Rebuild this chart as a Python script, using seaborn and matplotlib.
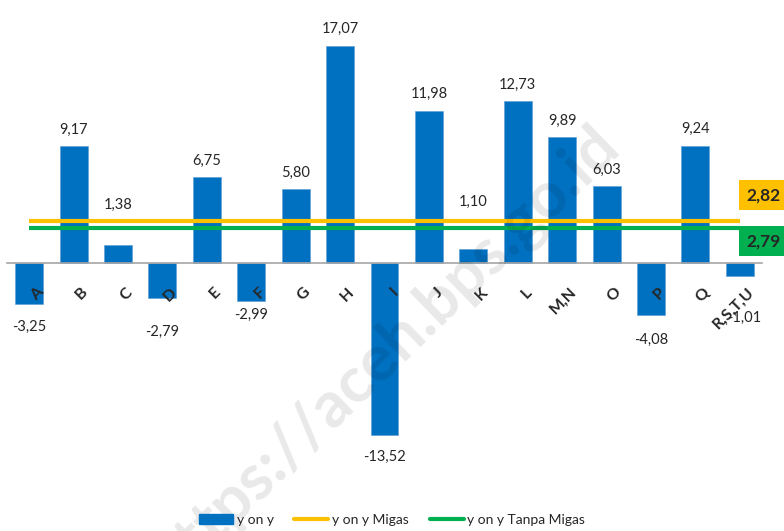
import matplotlib
matplotlib.use("Agg")
import matplotlib.pyplot as plt
import matplotlib.transforms as mtransforms
from matplotlib.patches import Patch
from matplotlib.lines import Line2D
import seaborn as sns

# Data
categories = ["A", "B", "C", "D", "E", "F", "G", "H", "I", "J", "K", "L",
              "M,N", "O", "P", "Q", "R,S,T,U"]
yoy = [-3.25, 9.17, 1.38, -2.79, 6.75, -2.99, 5.80, 17.07, -13.52, 11.98,
       1.10, 12.73, 9.89, 6.03, -4.08, 9.24, -1.01]
yoy_migas = 2.82
yoy_tanpa_migas = 2.79
legend_labels = ["y on y", "y on y Migas", "y on y Tanpa Migas"]

BLUE = "#0070C0"
YELLOW = "#FFC000"
GREEN = "#00B050"

def fmt(v):
    return f"{v:.2f}".replace(".", ",")

sns.set_style("white")
plt.rcParams["font.family"] = ["Lato", "DejaVu Sans"]

fig = plt.figure(figsize=(7.84, 5.31), dpi=100)
# zero line at ~263 px, about 12.7 px per unit
ax = fig.add_axes([7 / 784, 0.0738, 755 / 784, 0.9217])

sns.barplot(x=categories, y=yoy, color=BLUE, saturation=1, width=0.63, ax=ax,
            edgecolor="#5B9BD5", linewidth=0.4, zorder=2)
ax.set_xlim(-0.5, len(categories) - 0.5)
ax.set_ylim(-18, 20.5)

# axis line at zero with small ticks between categories
for s in ["top", "right", "left"]:
    ax.spines[s].set_visible(False)
ax.spines["bottom"].set_position(("data", 0))
ax.spines["bottom"].set_color("#A6A6A6")
ax.spines["bottom"].set_linewidth(1.2)
ax.set_xticks([i - 0.5 for i in range(len(categories) + 1)])
ax.set_xticklabels([])
ax.tick_params(axis="x", length=5, color="#A6A6A6", width=1.2, direction="out")
ax.set_yticks([])

# category labels, rotated, ending just below the axis
for i, c in enumerate(categories):
    ax.annotate(c, xy=(i, 0), xytext=(5, -16), textcoords="offset points",
                rotation=45, rotation_mode="anchor", ha="right", va="top",
                fontsize=11.5, fontweight="bold", zorder=4)

# value labels (small bars get their label lifted above the reference lines)
nudge = {2: 17, 3: -8, 5: 6, 10: 22, 14: -2}
for i, v in enumerate(yoy):
    if i == len(yoy) - 1:
        ax.annotate(fmt(v), xy=(i, v), xytext=(3, -30), textcoords="offset points",
                    ha="center", va="center", fontsize=10.5, zorder=5)
    elif v >= 0:
        ax.annotate(fmt(v), xy=(i, v), xytext=(0, 12 + nudge.get(i, 0)),
                    textcoords="offset points", ha="center", va="center", fontsize=10.5)
    else:
        ax.annotate(fmt(v), xy=(i, v), xytext=(0, -16 + nudge.get(i, 0)),
                    textcoords="offset points", ha="center", va="center", fontsize=10.5)

# reference lines (yellow shifted up a little so both stay visible)
up = mtransforms.offset_copy(ax.transData, fig=fig, x=0, y=4.3, units="points")
ax.plot([0, len(categories) - 1], [yoy_migas, yoy_migas], color=YELLOW, lw=3,
        transform=up, zorder=3, solid_capstyle="butt")
ax.plot([0, len(categories) - 1], [yoy_tanpa_migas, yoy_tanpa_migas], color=GREEN,
        lw=3, zorder=3, solid_capstyle="butt")

ax.annotate(fmt(yoy_migas), xy=(1, yoy_migas), xycoords=("axes fraction", "data"),
            xytext=(1, 23), textcoords="offset points", ha="center", va="center",
            fontsize=12.5, fontweight="bold", annotation_clip=False,
            bbox=dict(boxstyle="square,pad=0.4", fc=YELLOW, ec="none"))
ax.annotate(fmt(yoy_tanpa_migas), xy=(1, yoy_tanpa_migas),
            xycoords=("axes fraction", "data"),
            xytext=(1, -10), textcoords="offset points", ha="center", va="center",
            fontsize=12.5, fontweight="bold", annotation_clip=False,
            bbox=dict(boxstyle="square,pad=0.4", fc=GREEN, ec="none"))

# faint watermark
fig.text(0.49, 0.335, "https://aceh.bps.go.id", rotation=44, ha="center", va="center",
         fontsize=46, fontweight="bold", color="#000000", alpha=0.09, zorder=0)

handles = [Patch(facecolor=BLUE, edgecolor=BLUE),
           Line2D([], [], color=YELLOW, lw=3),
           Line2D([], [], color=GREEN, lw=3)]
fig.legend(handles, legend_labels, loc="center", bbox_to_anchor=(0.5, 0.021), ncol=3,
           frameon=False, fontsize=10, handlelength=2.45, handletextpad=0.25,
           columnspacing=1.5)

fig.savefig("out.png", dpi=100)
